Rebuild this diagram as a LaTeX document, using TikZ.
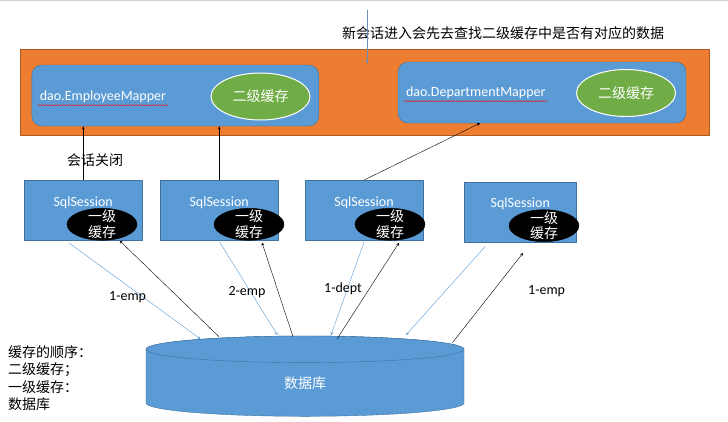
\documentclass[tikz,border=0pt]{standalone}
\usepackage{fontspec}
\setmainfont{Carlito}
\newfontfamily\cjk{Noto Sans CJK SC}
\usetikzlibrary{calc,shapes.geometric,decorations.pathmorphing}
\definecolor{boxblue}{HTML}{5B9BD5}
\definecolor{boxedge}{HTML}{41719C}
\definecolor{noteline}{HTML}{6B8FB8}
\definecolor{panelorange}{HTML}{ED7D31}
\definecolor{paneledge}{HTML}{AE5A21}
\definecolor{cachegreen}{HTML}{70AD47}
\begin{document}
\begin{tikzpicture}[x=1pt,y=-1pt,font=\fontsize{14}{17}\selectfont,line join=round,>=stealth,
	cn/.style={font=\cjk\fontsize{14}{17}\selectfont},
	mapper/.style={draw=boxedge,fill=boxblue,rounded corners=10pt},
	session/.style={draw=boxedge,fill=boxblue,minimum height=60pt},
	cachetwo/.style={ellipse,draw=white,line width=1pt,fill=cachegreen,minimum width=99pt,minimum height=47pt,inner sep=0pt},
	cacheone/.style={ellipse,draw=black,fill=black,minimum width=70pt,minimum height=32pt,inner sep=0pt},
	goline/.style={->,boxblue},
	backline/.style={->,black}]
	\useasboundingbox (0,0) rectangle (728,421);
	\draw[gray!35,line width=1.5pt] (0,0.5) -- (728,0.5);
	% second level cache
	\node[cn] (note) at (503,33) {新会话进入会先去查找二级缓存中是否有对应的数据};
	\node[draw=paneledge,fill=panelorange,minimum width=689pt,minimum height=86pt] (panel) at (364.5,92) {};
	\coordinate (ntop) at (367,10);
	\coordinate (nend) at (367,62);
	\draw[noteline] (ntop) -- (nend);
	\fill[noteline] (nend) circle(1.4pt);
	\node[mapper,minimum width=287pt,minimum height=61pt] (m1) at (175.3,95.5) {};
	\node[mapper,minimum width=288pt,minimum height=61pt] (m2) at (542,92.5) {};
	\node[anchor=west,text=white,inner sep=2pt] (em) at ($(m1.west)+(6,1.5)$) {dao.EmployeeMapper};
	\node[anchor=west,text=white,inner sep=2pt] (dm) at ($(m2.west)+(6,0.5)$) {dao.DepartmentMapper};
	\foreach \t in {em,dm}{\draw[red,decorate,decoration={snake,amplitude=0.6pt,segment length=3pt}] (\t.south west) -- (\t.south east);}
	\node[cachetwo] (g1) at (260.5,96.5) {};
	\node[cachetwo] (g2) at (626,93) {};
	\foreach \g in {g1,g2}{\node[cn,text=white] at (\g) {二级缓存};}
	% sessions with first level cache
	\foreach \n/\x/\y/\w/\ex in {1/83.2/210.3/118.5/102,2/219.2/210.3/118.5/249,3/364/210.3/118.5/390,4/520.3/211.7/112.5/544}{
		\node[session,minimum width=\w pt] (s\n) at (\x,\y) {};
		\node[text=white] (t\n) at (\x,\y-7.5) {SqlSession};
		\node[cacheone] (c\n) at (\ex,\y+14) {};
		\node[cn,text=white,align=center,font=\cjk\fontsize{14}{15.5}\selectfont] at (c\n) {一级\\缓存};
	}
	\node[cn] (close) at (95,160) {会话关闭};
	\draw[->] (s1.north) -- (s1.north |- m1.south);
	\draw[->] (s2.north) -- (s2.north |- m1.south);
	\draw[->] (s3.north) -- ($(m2.south west)!0.285!(m2.south east)$);
	% database
	\draw[boxedge,fill=boxblue] (146,349.3) -- (146,403) arc[start angle=180,end angle=0,x radius=159,y radius=13.3] -- (464,349.3) arc[start angle=0,end angle=-180,x radius=159,y radius=13.3] -- cycle;
	\draw[boxedge,fill=boxblue] (305,349.3) ellipse[x radius=159,y radius=13.3];
	\node[cn,text=white] (db) at (305,383) {数据库};
	\foreach \n/\ax/\ay/\bx/\by/\cx/\cy/\dx/\dy/\lx/\ly/\l in {1/68.7/242.7/200.5/339/219/336.7/119.7/240.7/127.6/296.7/1-emp,2/219.5/242/277.5/335/293/336.7/262/242.7/247/291.7/2-emp,3/364/242/331/335/337/339/399/242.7/343/289/1-dept,4/485/246.7/406/335/452.4/342.7/523/253/546.6/291/1-emp}{
		\coordinate (go\n) at (\ax,\ay);
		\coordinate (hit\n) at (\bx,\by);
		\coordinate (rd\n) at (\cx,\cy);
		\coordinate (back\n) at (\dx,\dy);
		\draw[goline] (go\n) -- (hit\n);
		\draw[backline] (rd\n) -- (back\n);
		\node (lab\n) at (\lx,\ly) {\l};
	}
	\node[cn,anchor=north west,align=left,inner sep=0pt,font=\cjk\fontsize{14}{17.5}\selectfont] (order) at (8,345) {缓存的顺序：\\二级缓存；\\一级缓存：\\数据库};
\end{tikzpicture}
\end{document}
